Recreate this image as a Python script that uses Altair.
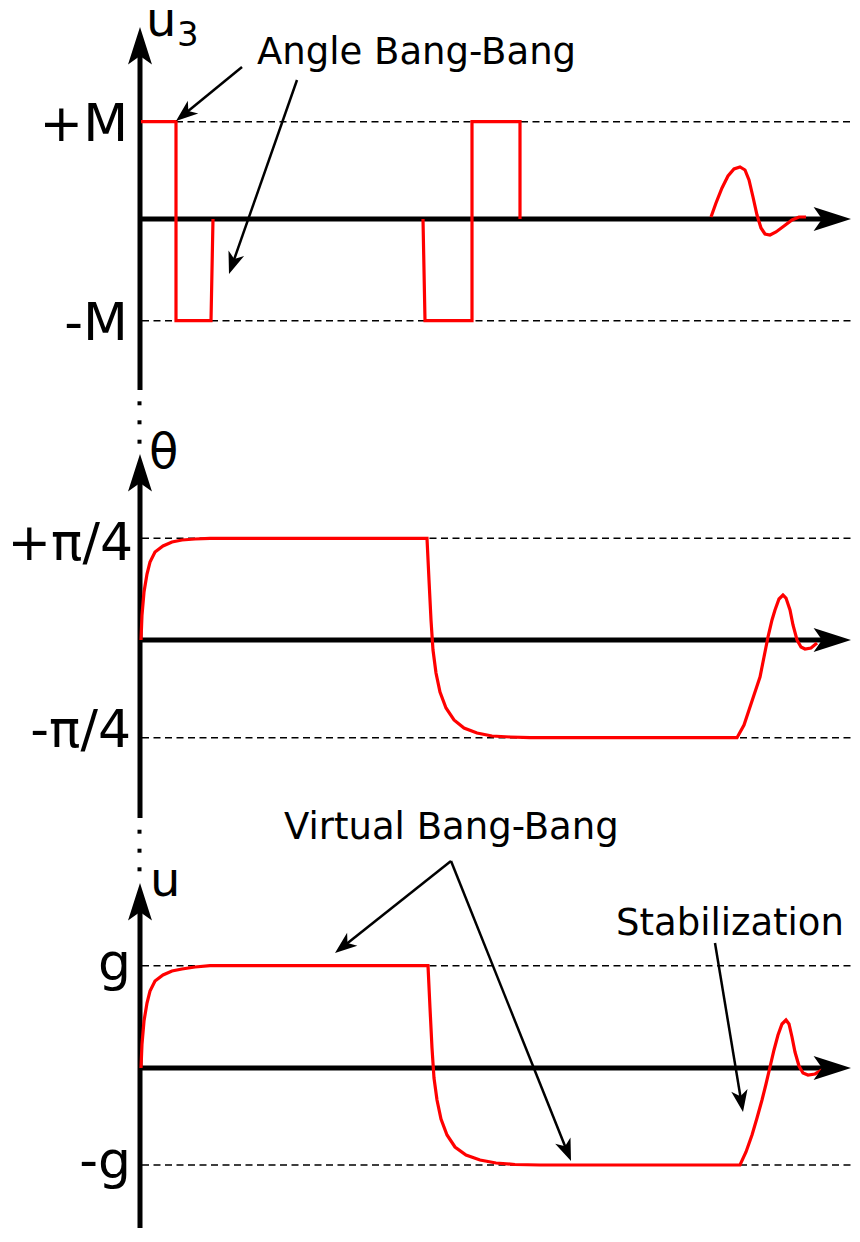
import altair as alt
import pandas as pd
import numpy as np

# ---------------- data (reference pixel coordinates) ----------------
# panel 1 : u3
u3_a_x = [141, 176, 176, 211, 213]
u3_a_y = [121.7, 121.7, 320.7, 320.7, 219]
u3_b_x = [423, 425, 472, 472, 520, 520]
u3_b_y = [219, 320.7, 320.7, 121.7, 121.7, 219]
u3_c_x = [711, 716, 722, 728, 734, 740, 745, 749, 753, 757, 761, 765, 770, 776, 784, 792, 799, 806]
u3_c_y = [217, 203, 188, 176, 169, 167, 170, 180, 197, 215, 228, 234, 235, 232, 226, 220, 217, 217]

# panel 2 : theta
th_x = [141, 142, 144, 147, 150, 155, 163, 172, 182, 195, 210, 427, 429, 431, 433, 436, 440, 446, 454,
        464, 477, 492, 510, 530, 737, 744, 750, 755, 760, 764, 768, 772, 775, 779, 783, 786, 790, 793,
        797, 801, 805, 811, 817]
th_y = [640, 615, 592, 574, 562, 552, 546, 542, 540, 539, 538.3, 538.3, 580, 620, 650, 673, 692, 708, 720,
        728, 733, 736, 737, 737.7, 737.7, 725, 707, 692, 677, 657, 637, 620, 610, 599, 595, 598, 610, 625,
        640, 647, 649, 648, 643]

# panel 3 : u
u_x = [141, 142, 144, 147, 150, 155, 163, 172, 182, 195, 210, 428, 430, 432, 434, 437, 441, 447, 455,
       466, 480, 496, 515, 540, 740, 746, 752, 757, 762, 766, 770, 774, 778, 782, 786, 789, 792, 795,
       799, 803, 808, 815, 822]
u_y = [1068, 1044, 1021, 1003, 991, 981, 975, 971, 969, 967, 965.7, 965.7, 1008, 1048, 1078, 1100, 1119, 1135, 1147,
       1155, 1160, 1163, 1164.5, 1165, 1165, 1152, 1135, 1118, 1100, 1084, 1067, 1050, 1035, 1024, 1020, 1024,
       1037, 1052, 1066, 1073, 1075, 1074, 1070]

# dashed reference levels
dash_y = [121.7, 320.7, 538.3, 737.7, 965.7, 1165]
dash_x1 = [176, 142, 142, 142, 142, 142]
dash_x2 = [852, 852, 852, 852, 852, 852]

# axis shafts
ax_x1 = [140, 140, 140, 140, 140, 140]
ax_y1 = [48, 476, 904, 219, 640, 1068]
ax_x2 = [140, 140, 140, 834, 834, 834]
ax_y2 = [390, 818, 1242, 219, 640, 1068]

# axis arrow tips
tip_x = [140, 140, 140, 851, 851, 851]
tip_y = [27, 454, 883, 219, 640, 1068]
tip_ang = [0, 0, 0, 90, 90, 90]

# dotted continuation
dot_x = [139.5] * 6
dot_y = [403.3, 422.3, 441.7, 831.7, 850.7, 869.3]

# annotation arrows
ann_x1 = [242, 297, 451, 451, 715]
ann_y1 = [67, 80, 861, 861, 943]
ann_x2 = [176, 229, 335, 571, 743]
ann_y2 = [121, 274, 953, 1161, 1112]

# texts
lab_right_text = ["+M", "-M", "+π/4", "-π/4", "g", "-g"]
lab_right_x = [128, 128, 133, 131, 131, 131]
lab_right_y = [141, 340, 560, 747, 980, 1178]

lab_left_text = ["u", "θ", "u"]
lab_left_x = [146, 149, 150]
lab_left_y = [36, 468, 896]
sub_text = ["3"]
sub_x = [177]
sub_y = [46]

ann_text = ["Angle Bang-Bang", "Virtual Bang-Bang", "Stabilization"]
ann_tx = [257, 284, 616]
ann_ty = [64, 839, 935]

# ---------------- build ----------------
XD = [8, 852]
YD = [8, 1228]


def X(f):
    return alt.X(f"{f}:Q", scale=alt.Scale(domain=XD, nice=False, zero=False), axis=None)


def Y(f):
    return alt.Y(f"{f}:Q", scale=alt.Scale(domain=YD, nice=False, zero=False, reverse=True), axis=None)


sig_frames = []
for name, xs, ys in [("a", u3_a_x, u3_a_y), ("b", u3_b_x, u3_b_y), ("c", u3_c_x, u3_c_y),
                     ("th", th_x, th_y), ("u", u_x, u_y)]:
    sig_frames.append(pd.DataFrame({"x": xs, "y": ys, "seg": name, "ord": range(len(xs))}))
sig = pd.concat(sig_frames, ignore_index=True)

dash_df = pd.DataFrame({"x1": dash_x1, "x2": dash_x2, "y": dash_y})
ax_df = pd.DataFrame({"x1": ax_x1, "y1": ax_y1, "x2": ax_x2, "y2": ax_y2})
tip_df = pd.DataFrame({"x": tip_x, "y": tip_y, "ang": tip_ang})
dot_df = pd.DataFrame({"x": dot_x, "y": dot_y})

ann = pd.DataFrame({"x1": ann_x1, "y1": ann_y1, "x2": ann_x2, "y2": ann_y2})
dx = ann["x2"] - ann["x1"]
dy = ann["y2"] - ann["y1"]
ln = np.sqrt(dx ** 2 + dy ** 2)
ann["ang"] = (np.degrees(np.arctan2(dx, -dy)) + 360) % 360
ann["xe"] = ann["x2"] - dx / ln * 13
ann["ye"] = ann["y2"] - dy / ln * 13

lr_df = pd.DataFrame({"t": lab_right_text, "x": lab_right_x, "y": lab_right_y})
ll_df = pd.DataFrame({"t": lab_left_text, "x": lab_left_x, "y": lab_left_y})
sub_df = pd.DataFrame({"t": sub_text, "x": sub_x, "y": sub_y})
at_df = pd.DataFrame({"t": ann_text, "x": ann_tx, "y": ann_ty})

FONT = "DejaVu Sans"

dashed = alt.Chart(dash_df).mark_rule(color="black", strokeWidth=1.6, strokeDash=[7, 4.5]).encode(
    x=X("x1"), x2="x2:Q", y=Y("y"))

axes = alt.Chart(ax_df).mark_rule(color="black", strokeWidth=5).encode(
    x=X("x1"), y=Y("y1"), x2="x2:Q", y2="y2:Q")

AX_ARROW = "M0,0L0.64,2L0,1.55L-0.64,2Z"
tips = alt.Chart(tip_df).mark_point(shape=AX_ARROW, filled=True, color="black", opacity=1,
                                    size=1400, strokeWidth=0).encode(
    x=X("x"), y=Y("y"), angle=alt.Angle("ang:Q", scale=None))

dots = alt.Chart(dot_df).mark_square(size=16, color="black", opacity=1).encode(x=X("x"), y=Y("y"))

signals = alt.Chart(sig).mark_line(color="#ff0000", strokeWidth=3.2, strokeJoin="miter").encode(
    x=X("x"), y=Y("y"), detail="seg:N", order="ord:Q")

ann_lines = alt.Chart(ann).mark_rule(color="black", strokeWidth=2.5).encode(
    x=X("x1"), y=Y("y1"), x2="xe:Q", y2="ye:Q")

ANN_ARROW = "M0,0L0.75,2L0,1.45L-0.75,2Z"
ann_heads = alt.Chart(ann).mark_point(shape=ANN_ARROW, filled=True, color="black", opacity=1,
                                      size=484, strokeWidth=0).encode(
    x=X("x2"), y=Y("y2"), angle=alt.Angle("ang:Q", scale=None))

txt_right = alt.Chart(lr_df).mark_text(font=FONT, fontSize=52, align="right", baseline="alphabetic",
                                       color="black").encode(x=X("x"), y=Y("y"), text="t:N")
txt_left = alt.Chart(ll_df).mark_text(font=FONT, fontSize=48, align="left", baseline="alphabetic",
                                      color="black").encode(x=X("x"), y=Y("y"), text="t:N")
txt_sub = alt.Chart(sub_df).mark_text(font=FONT, fontSize=34, align="left", baseline="alphabetic",
                                      color="black").encode(x=X("x"), y=Y("y"), text="t:N")
txt_ann = alt.Chart(at_df).mark_text(font=FONT, fontSize=37, align="left", baseline="alphabetic",
                                     color="black").encode(x=X("x"), y=Y("y"), text="t:N")

chart = alt.layer(
    dashed, axes, signals, dots, tips, ann_lines, ann_heads, txt_right, txt_left, txt_sub, txt_ann
).properties(
    width=844, height=1220, autosize=alt.AutoSizeParams(type="none"), padding=0, background="white"
).configure_view(stroke=None)

chart.save("out.html", embed_options={"renderer": "svg", "actions": False})
